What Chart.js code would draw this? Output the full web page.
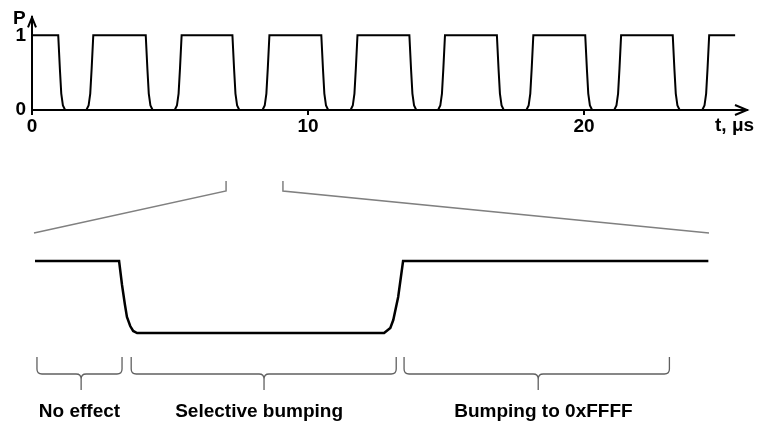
<!DOCTYPE html>
<html><head><meta charset="utf-8">
<script src="https://cdn.jsdelivr.net/npm/chart.js@4"></script>
<style>
html,body{margin:0;padding:0;background:#fff;width:761px;height:421px;overflow:hidden}
canvas{position:absolute;left:0}
#top{top:0}
#bot{top:150px}
</style></head><body>
<canvas id="top" width="761" height="145"></canvas>
<canvas id="bot" width="761" height="271"></canvas>
<script>
// ---- top panel: pulse train P(t), t in microseconds ----
const pulseTime = [
  0,
  0.95, 1.01, 1.06, 1.12, 1.20,   1.97, 2.05, 2.11, 2.16, 2.22,
  4.12, 4.18, 4.23, 4.29, 4.37,   5.17, 5.25, 5.31, 5.36, 5.42,
  7.26, 7.32, 7.37, 7.43, 7.51,   8.35, 8.43, 8.49, 8.54, 8.60,
  10.48, 10.54, 10.59, 10.65, 10.73,   11.54, 11.62, 11.68, 11.73, 11.79,
  13.67, 13.73, 13.78, 13.84, 13.92,   14.71, 14.79, 14.85, 14.90, 14.96,
  16.84, 16.90, 16.95, 17.01, 17.09,   17.91, 17.99, 18.05, 18.10, 18.16,
  20.04, 20.10, 20.15, 20.21, 20.29,   21.09, 21.17, 21.23, 21.28, 21.34,
  23.21, 23.27, 23.32, 23.38, 23.46,   24.28, 24.36, 24.42, 24.47, 24.53,
  25.47
];
const pulsePower = [
  1,
  1, 0.55, 0.22, 0.06, 0,   0, 0.06, 0.22, 0.55, 1,
  1, 0.55, 0.22, 0.06, 0,   0, 0.06, 0.22, 0.55, 1,
  1, 0.55, 0.22, 0.06, 0,   0, 0.06, 0.22, 0.55, 1,
  1, 0.55, 0.22, 0.06, 0,   0, 0.06, 0.22, 0.55, 1,
  1, 0.55, 0.22, 0.06, 0,   0, 0.06, 0.22, 0.55, 1,
  1, 0.55, 0.22, 0.06, 0,   0, 0.06, 0.22, 0.55, 1,
  1, 0.55, 0.22, 0.06, 0,   0, 0.06, 0.22, 0.55, 1,
  1, 0.55, 0.22, 0.06, 0,   0, 0.06, 0.22, 0.55, 1,
  1
];
const timeTicks = [0, 10, 20];
const powerTicks = [0, 1];
const axisTitleY = 'P';
const axisTitleX = 't, \u03bcs';

// ---- bottom panel: zoom into one pulse gap ----
const zoomWindow = [7.03, 9.09];
const zoomTime  = [7.03, 7.287, 7.296, 7.305, 7.311, 7.321, 7.330, 7.342, 8.097, 8.116, 8.125, 8.140, 8.155, 9.088];
const zoomPower = [1,    1,     0.667, 0.389, 0.222, 0.097, 0.028, 0,     0,     0.07,  0.18,  0.5,   1,     1];
const regionStart = [7.036, 7.324, 8.158];
const regionEnd   = [7.296, 8.134, 8.969];
const regionTip   = [7.171, 7.730, 8.568];
const regionLabelPos = [7.166, 7.715, 8.584];
const regionLabels = ['No effect', 'Selective bumping', 'Bumping to 0xFFFF'];

const FONT = {family: '"Liberation Sans", Arial, sans-serif', size: 19, weight: 'bold'};

const topDecor = {
  id: 'topDecor',
  afterDraw(chart) {
    const ctx = chart.ctx, xs = chart.scales.x, ys = chart.scales.y;
    const x0 = xs.getPixelForValue(0), y0 = ys.getPixelForValue(0);
    ctx.save();
    ctx.strokeStyle = '#000'; ctx.lineWidth = 2; ctx.lineJoin = 'miter';
    // x arrow
    const xt = xs.right;
    ctx.beginPath(); ctx.moveTo(xt - 12, y0 - 5); ctx.lineTo(xt, y0); ctx.lineTo(xt - 12, y0 + 5); ctx.stroke();
    // y arrow
    const yt = ys.top;
    ctx.beginPath(); ctx.moveTo(x0 - 4, yt + 10); ctx.lineTo(x0, yt); ctx.lineTo(x0 + 4, yt + 10); ctx.stroke();
    ctx.fillStyle = '#000';
    ctx.font = 'bold 19px "Liberation Sans", Arial, sans-serif';
    ctx.textAlign = 'left'; ctx.textBaseline = 'alphabetic';
    ctx.fillText(axisTitleY, 13, 24);
    ctx.fillText(axisTitleX, 715, 131);
    ctx.restore();
  }
};

const topChart = new Chart(document.getElementById('top'), {
  type: 'line',
  data: { datasets: [{
    data: pulseTime.map((t, i) => ({x: t, y: pulsePower[i]})),
    borderColor: '#000', borderWidth: 2, pointRadius: 0, tension: 0, fill: false, clip: false
  }]},
  options: {
    responsive: false, animation: false,
    layout: { padding: { top: 15, right: 14, left: 0, bottom: 0 } },
    plugins: { legend: {display: false}, tooltip: {enabled: false} },
    scales: {
      x: {
        type: 'linear', min: 0, max: 25.9,
        afterBuildTicks: s => { s.ticks = timeTicks.map(v => ({value: v})); },
        afterFit: s => { s.height = 35; },
        grid: { drawOnChartArea: false, drawTicks: true, tickLength: 5, color: '#000', lineWidth: 2 },
        border: { display: true, color: '#000', width: 2 },
        ticks: { color: '#000', font: FONT, padding: 0, maxRotation: 0, autoSkip: false }
      },
      y: {
        min: 0, max: 1.24,
        afterBuildTicks: s => { s.ticks = powerTicks.map(v => ({value: v})); },
        afterFit: s => { s.width = 32; },
        grid: { display: false, drawTicks: false },
        border: { display: true, color: '#000', width: 2 },
        ticks: { color: '#000', font: FONT, padding: 6 }
      }
    }
  },
  plugins: [topDecor]
});

const botDecor = {
  id: 'botDecor',
  afterDraw(chart) {
    const ctx = chart.ctx, xs = chart.scales.x;
    ctx.save();
    // zoom connectors
    ctx.strokeStyle = '#808080'; ctx.lineWidth = 1.5;
    zoomWindow.forEach((v, i) => {
      const xt = topChart.scales.x.getPixelForValue(v);
      const xb = xs.getPixelForValue(v) + (i === 0 ? -1 : 0);
      ctx.beginPath(); ctx.moveTo(xt, 31); ctx.lineTo(xt, 41); ctx.lineTo(xb, 83); ctx.stroke();
    });
    // braces
    ctx.strokeStyle = '#606060'; ctx.lineWidth = 1.3;
    const yTop = 207, yMid = 224, yBot = 240, r = 5;
    regionStart.forEach((s, i) => {
      const a = xs.getPixelForValue(s), b = xs.getPixelForValue(regionEnd[i]), m = xs.getPixelForValue(regionTip[i]);
      ctx.beginPath();
      ctx.moveTo(a, yTop); ctx.lineTo(a, yMid - r);
      ctx.quadraticCurveTo(a, yMid, a + r, yMid);
      ctx.lineTo(m - r, yMid);
      ctx.quadraticCurveTo(m, yMid, m, yMid + r);
      ctx.lineTo(m, yBot);
      ctx.moveTo(m, yMid + r);
      ctx.quadraticCurveTo(m, yMid, m + r, yMid);
      ctx.lineTo(b - r, yMid);
      ctx.quadraticCurveTo(b, yMid, b, yMid - r);
      ctx.lineTo(b, yTop);
      ctx.stroke();
    });
    ctx.restore();
  }
};

new Chart(document.getElementById('bot'), {
  type: 'line',
  data: { datasets: [{
    data: zoomTime.map((t, i) => ({x: t, y: zoomPower[i]})),
    borderColor: '#000', borderWidth: 2.5, pointRadius: 0, tension: 0, fill: false, clip: false
  }]},
  options: {
    responsive: false, animation: false,
    layout: { padding: { top: 75, right: 52, left: 35, bottom: 0 } },
    plugins: { legend: {display: false}, tooltip: {enabled: false} },
    scales: {
      x: {
        type: 'linear', min: zoomWindow[0], max: zoomWindow[1],
        afterBuildTicks: s => { s.ticks = regionLabelPos.map(v => ({value: v})); },
        afterFit: s => { s.height = 52; },
        grid: { display: false, drawTicks: false },
        border: { display: false },
        ticks: { color: '#000', font: FONT, padding: 31, maxRotation: 0, minRotation: 0, autoSkip: false,
                 callback: (v, i) => regionLabels[i] }
      },
      y: { display: false, min: -0.5, max: 1.5 }
    }
  },
  plugins: [botDecor]
});
</script>
</body></html>
